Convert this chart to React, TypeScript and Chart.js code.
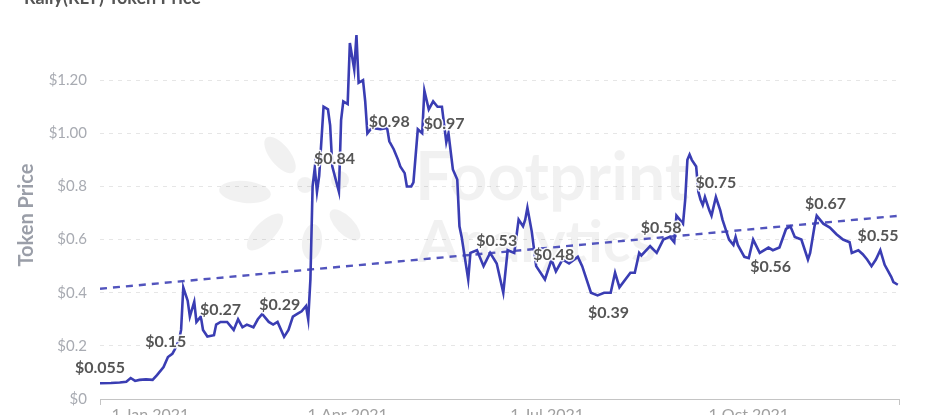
import React, { useEffect, useRef } from "react";
import { Chart, registerables } from "chart.js";

Chart.register(...registerables);

// Day offsets from 9 Dec 2020 and RLY token price (USD)
const days = [
  0, 5, 9, 12, 14, 16, 18, 21, 24, 26, 29, 31, 33, 34, 36, 37, 38, 40, 41, 43,
  44, 46, 47, 49, 52, 53, 55, 58, 61, 63, 65, 67, 70, 72, 74, 77, 79, 81, 84, 86,
  88, 90, 92, 94, 95, 96, 97, 98, 99, 100, 102, 104, 105, 106, 109, 110, 111, 113, 114, 116,
  117, 118, 120, 121, 122, 124, 128, 131, 132, 134, 136, 137, 139, 140, 142, 143, 145, 147, 148, 150,
  152, 154, 156, 158, 159, 161, 163, 164, 165, 168, 169, 172, 175, 178, 181, 184, 186, 189, 191, 193,
  194, 195, 197, 199, 201, 203, 206, 208, 211, 214, 218, 220, 224, 227, 230, 233, 235, 237, 242, 244,
  246, 247, 251, 254, 257, 260, 262, 263, 266, 267, 268, 269, 270, 272, 273, 274, 275, 276, 278, 279,
  281, 283, 284, 287, 289, 290, 291, 294, 296, 298, 301, 305, 307, 310, 313, 315, 317, 320, 323, 324,
  326, 327, 328, 330, 333, 336, 339, 342, 343, 346, 348, 350, 352, 354, 356, 358, 361, 362, 364,
];
const prices = [
  0.059, 0.06, 0.062, 0.065, 0.079, 0.068, 0.072, 0.074, 0.072, 0.09, 0.12, 0.158, 0.17, 0.185, 0.22, 0.26, 0.42, 0.37, 0.31, 0.366,
  0.29, 0.31, 0.26, 0.235, 0.24, 0.28, 0.29, 0.29, 0.26, 0.3, 0.27, 0.28, 0.27, 0.3, 0.32, 0.29, 0.28, 0.29, 0.234, 0.26,
  0.31, 0.32, 0.33, 0.35, 0.3, 0.45, 0.8, 0.87, 0.78, 0.84, 1.1, 1.09, 1.03, 0.875, 0.78, 1.05, 1.12, 1.11, 1.34, 1.24,
  1.37, 1.19, 1.2, 1.12, 1.0, 1.02, 1.015, 1.02, 0.97, 0.94, 0.9, 0.875, 0.85, 0.8, 0.8, 0.815, 1.015, 1.0, 1.16, 1.09,
  1.12, 1.1, 1.1, 0.966, 1.0, 0.864, 0.826, 0.65, 0.61, 0.45, 0.55, 0.56, 0.5, 0.55, 0.51, 0.4, 0.56, 0.55, 0.675, 0.65,
  0.675, 0.72, 0.63, 0.5, 0.475, 0.45, 0.525, 0.48, 0.525, 0.51, 0.535, 0.5, 0.4, 0.39, 0.4, 0.4, 0.475, 0.42, 0.475, 0.475,
  0.55, 0.54, 0.575, 0.55, 0.6, 0.61, 0.59, 0.69, 0.66, 0.75, 0.9, 0.92, 0.9, 0.875, 0.78, 0.75, 0.73, 0.76, 0.71, 0.69,
  0.76, 0.71, 0.675, 0.6, 0.58, 0.61, 0.58, 0.535, 0.53, 0.6, 0.55, 0.57, 0.56, 0.57, 0.64, 0.65, 0.61, 0.6, 0.525, 0.55,
  0.65, 0.69, 0.68, 0.66, 0.645, 0.62, 0.6, 0.59, 0.55, 0.56, 0.545, 0.525, 0.5, 0.525, 0.56, 0.505, 0.46, 0.44, 0.43,
];

const xMin = 0;
const xMax = 365;
const xTickDays = [23, 113, 204, 296];
const xTickLabels = ["1 Jan 2021", "1 Apr 2021", "1 Jul 2021", "1 Oct 2021"];

const yTickValues = [0, 0.2, 0.4, 0.6, 0.8, 1.0, 1.2];
const yTickLabels = ["$0", "$0.2", "$0.4", "$0.6", "$0.8", "$1.00", "$1.20"];

const trendDays = [0, 365];
const trendValues = [0.415, 0.69];

const labelDays = [0, 30, 55, 82, 107, 132, 157, 181, 207, 232, 256, 281, 306, 331, 355];
const labelValues = [0.055, 0.15, 0.27, 0.29, 0.84, 0.98, 0.97, 0.53, 0.48, 0.39, 0.58, 0.75, 0.56, 0.67, 0.55];
const labelTexts = ["$0.055", "$0.15", "$0.27", "$0.29", "$0.84", "$0.98", "$0.97", "$0.53", "$0.48", "$0.39", "$0.58", "$0.75", "$0.56", "$0.67", "$0.55"];
const labelBelow = [false, false, false, false, false, false, false, false, false, true, false, false, true, false, false];

const TITLE = "Rally(RLY) Token Price";
const Y_TITLE = "Token Price";
const LINE_COLOR = "#3a3db3";

const decorPlugin = {
  id: "decor",
  beforeDatasetsDraw(chart: any) {
    const { ctx } = chart;
    ctx.save();
    // watermark logo petals
    ctx.fillStyle = "rgba(0,0,0,0.055)";
    const cx = 300, cy = 200;
    const petals = [
      [-20, -45, 22, 10, 0.9],
      [-55, -8, 26, 11, 0.1],
      [-35, 32, 24, 10, -0.8],
      [12, 42, 10, 18, 0.1],
      [45, 25, 20, 9, 0.8],
      [40, -20, 9, 9, 0],
      [5, -15, 8, 8, 0],
    ];
    for (const p of petals) {
      ctx.beginPath();
      ctx.ellipse(cx + p[0], cy + p[1], p[2], p[3], p[4], 0, Math.PI * 2);
      ctx.fill();
    }
    ctx.font = "bold 66px Lato";
    ctx.textAlign = "left";
    ctx.textBaseline = "alphabetic";
    ctx.fillText("Footprint", 415, 200);
    ctx.font = "bold 58px Lato";
    ctx.fillText("Analytics", 418, 262);
    ctx.restore();
  },
  afterDatasetsDraw(chart: any) {
    const { ctx, chartArea, scales } = chart;
    const xs = scales.x, ys = scales.y;
    ctx.save();
    ctx.font = "bold 16px Lato";
    ctx.textAlign = "center";
    ctx.textBaseline = "middle";
    ctx.lineJoin = "round";
    for (let i = 0; i < labelDays.length; i++) {
      const x = xs.getPixelForValue(labelDays[i]);
      const y = ys.getPixelForValue(labelValues[i]) + (labelBelow[i] ? 17 : -17);
      ctx.strokeStyle = "rgba(255,255,255,0.9)";
      ctx.lineWidth = 3;
      ctx.strokeText(labelTexts[i], x, y);
      ctx.fillStyle = "#555555";
      ctx.fillText(labelTexts[i], x, y);
    }
    // x axis line, end ticks and tick labels
    ctx.strokeStyle = "#c4c4c4";
    ctx.lineWidth = 1;
    ctx.beginPath();
    ctx.moveTo(chartArea.left, chartArea.bottom + 0.5);
    ctx.lineTo(chartArea.right, chartArea.bottom + 0.5);
    ctx.moveTo(chartArea.left + 0.5, chartArea.bottom);
    ctx.lineTo(chartArea.left + 0.5, chartArea.bottom + 6);
    ctx.moveTo(chartArea.right - 0.5, chartArea.bottom);
    ctx.lineTo(chartArea.right - 0.5, chartArea.bottom + 6);
    ctx.stroke();
    ctx.fillStyle = "#a0a0a0";
    ctx.font = "16px Lato";
    ctx.textAlign = "center";
    ctx.textBaseline = "top";
    for (let i = 0; i < xTickDays.length; i++) {
      ctx.fillText(xTickLabels[i], xs.getPixelForValue(xTickDays[i]), chartArea.bottom + 8);
    }
    ctx.restore();
  },
  afterDraw(chart: any) {
    const { ctx, chartArea } = chart;
    ctx.save();
    ctx.fillStyle = "#9a9ea8";
    ctx.font = "bold 20px Lato";
    ctx.textAlign = "center";
    ctx.textBaseline = "middle";
    ctx.translate(27, (chartArea.top + chartArea.bottom) / 2 + 2);
    ctx.rotate(-Math.PI / 2);
    ctx.fillText(Y_TITLE, 0, 0);
    ctx.restore();
    ctx.save();
    ctx.fillStyle = "#555";
    ctx.font = "bold 18px Lato";
    ctx.textAlign = "left";
    ctx.textBaseline = "alphabetic";
    ctx.fillText(TITLE, 24, 4);
    ctx.restore();
  },
};

export default function App() {
  const ref = useRef<HTMLCanvasElement | null>(null);
  useEffect(() => {
    if (!ref.current) return;
    const chart = new Chart(ref.current, {
      type: "line",
      data: {
        datasets: [
          {
            label: "Token Price",
            data: days.map((d, i) => ({ x: d, y: prices[i] })),
            borderColor: LINE_COLOR,
            borderWidth: 2.6,
            pointRadius: 0,
            tension: 0,
            fill: false,
          },
          {
            label: "Trend",
            data: trendDays.map((d, i) => ({ x: d, y: trendValues[i] })),
            borderColor: "#5254bd",
            borderWidth: 2.4,
            borderDash: [7, 6],
            pointRadius: 0,
            fill: false,
          },
        ],
      },
      options: {
        animation: false,
        responsive: false,
        devicePixelRatio: 1,
        layout: { padding: { left: 0, right: 42, top: 27, bottom: 16 } },
        plugins: { legend: { display: false }, tooltip: { enabled: false }, title: { display: false } },
        scales: {
          x: {
            type: "linear",
            min: xMin,
            max: xMax,
            display: true,
            afterBuildTicks: (scale: any) => {
              scale.ticks = xTickDays.map((v) => ({ value: v }));
            },
            afterFit: (scale: any) => {
              scale.height = 0;
              scale.paddingLeft = 0;
              scale.paddingRight = 0;
            },
            ticks: { display: false },
            grid: { display: false, drawTicks: false },
            border: { display: false },
          },
          y: {
            type: "linear",
            min: 0,
            max: 1.4,
            afterBuildTicks: (scale: any) => {
              scale.ticks = yTickValues.map((v) => ({ value: v }));
            },
            afterFit: (scale: any) => {
              scale.width = 100;
              scale.paddingTop = 0;
              scale.paddingBottom = 0;
            },
            ticks: {
              padding: 13,
              color: "#a8abb2",
              font: { family: "Lato", size: 15 },
              callback: (v: any) => {
                const i = yTickValues.findIndex((t) => Math.abs(t - Number(v)) < 1e-6);
                return i >= 0 ? yTickLabels[i] : "";
              },
            },
            grid: {
              drawTicks: false,
              color: (c: any) => (c.tick && c.tick.value === 0 ? "rgba(0,0,0,0)" : "#e6e6e6"),
              lineWidth: 1,
            },
            border: { display: false, dash: [4, 5] },
          },
        },
      },
      plugins: [decorPlugin],
    });
    return () => chart.destroy();
  }, []);
  return (
    <div style={{ position: "absolute", left: 0, top: 0, width: 942, height: 415, background: "#fff" }}>
      <canvas ref={ref} width={942} height={415} style={{ width: 942, height: 415, display: "block" }} />
    </div>
  );
}
